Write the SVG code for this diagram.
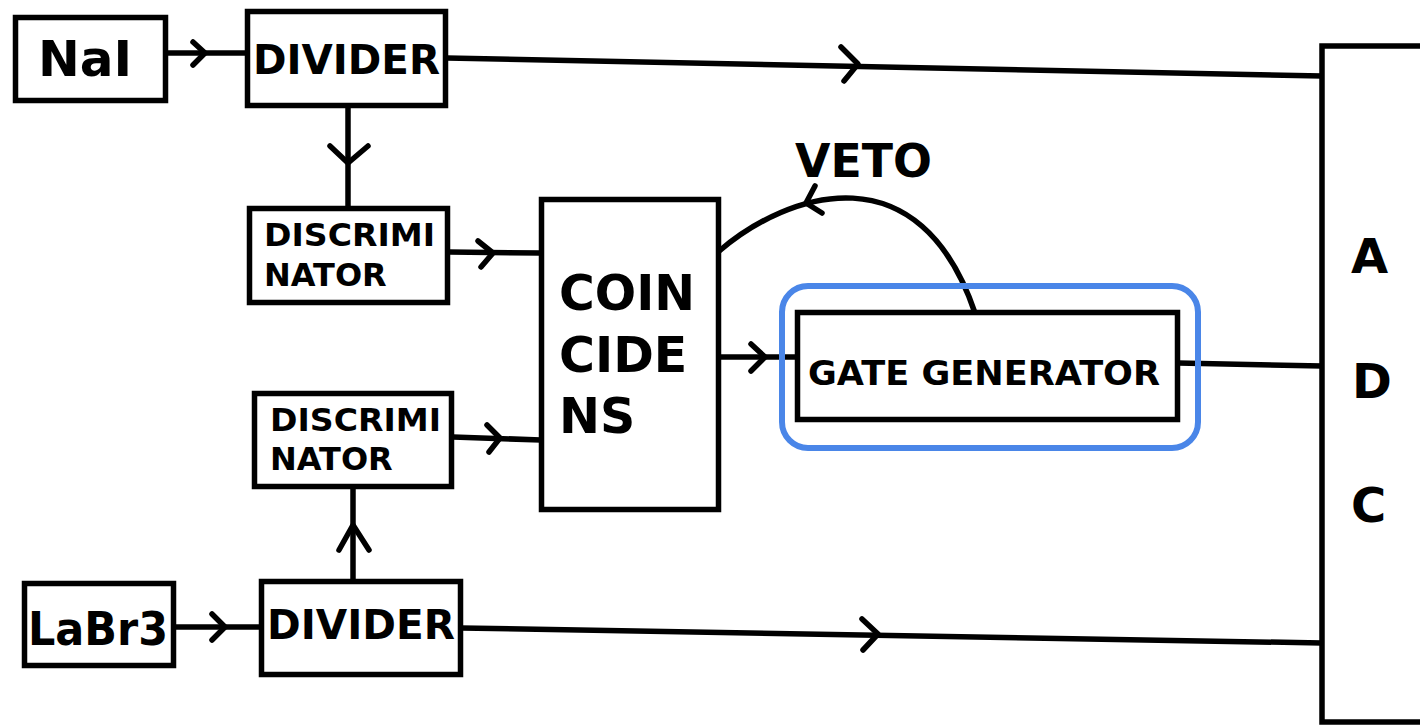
<svg xmlns="http://www.w3.org/2000/svg" width="1420" height="726" viewBox="0 0 1420 726">
  <style>
    .box { fill: #ffffff; stroke: #000000; stroke-width: 5.5; }
    .wire { fill: none; stroke: #000000; stroke-width: 5.5; }
    .head { fill: none; stroke: #000000; stroke-width: 5.5; stroke-linecap: round; stroke-linejoin: round; }
    .lbl { font-family: "DejaVu Sans", "Noto Sans", sans-serif; font-weight: bold; fill: #000000; }
  </style>
  <rect width="1420" height="726" fill="#ffffff"/>

  <!-- connectors -->
  <g id="connectors">
    <!-- NaI -> DIVIDER -->
    <line class="wire" x1="168" y1="53" x2="247" y2="53"/>
    <polyline class="head" points="193,42 205,53 193,65"/>
    <!-- DIVIDER -> DISCRIMINATOR (upper) -->
    <line class="wire" x1="348" y1="106" x2="348" y2="208"/>
    <polyline class="head" points="330,146 348,163 368,146"/>
    <!-- DIVIDER -> ADC -->
    <line class="wire" x1="447" y1="58" x2="1322" y2="76"/>
    <polyline class="head" points="841,47 858,64 844,81"/>
    <!-- DISCRIMINATOR (upper) -> COINCIDENS -->
    <line class="wire" x1="449" y1="252" x2="541" y2="253"/>
    <polyline class="head" points="478,241 493,253 481,267"/>
    <!-- DISCRIMINATOR (lower) -> COINCIDENS -->
    <line class="wire" x1="453" y1="437" x2="541" y2="440"/>
    <polyline class="head" points="487,425 500,438 489,452"/>
    <!-- LaBr3 -> DIVIDER -->
    <line class="wire" x1="175" y1="627" x2="262" y2="627"/>
    <polyline class="head" points="212,614 225,627 212,640"/>
    <!-- DIVIDER (lower) -> DISCRIMINATOR (lower) -->
    <line class="wire" x1="353" y1="581" x2="353" y2="487"/>
    <polyline class="head" points="339,550 353,525 369,550"/>
    <!-- DIVIDER (lower) -> ADC -->
    <line class="wire" x1="461" y1="628" x2="1322" y2="643"/>
    <polyline class="head" points="862,619 878,634 863,650"/>
    <!-- COINCIDENS -> GATE GENERATOR -->
    <line class="wire" x1="720" y1="357" x2="798" y2="357"/>
    <polyline class="head" points="751,344 765,357 751,371"/>
    <!-- GATE GENERATOR -> ADC -->
    <line class="wire" x1="1178" y1="363" x2="1322" y2="366"/>
    <!-- VETO feedback: GATE GENERATOR -> COINCIDENS -->
    <path class="wire" stroke-width="4.5" d="M718,252 C790,190 920,150 975,313"/>
    <polyline class="head" stroke-width="4.5" points="815,186 806,203 822,213"/>
  </g>

  <g id="nai">
    <rect class="box" x="15.5" y="17.5" width="150" height="83"/>
    <text class="lbl" x="38" y="76" font-size="50">NaI</text>
  </g>

  <g id="divider-top">
    <rect class="box" x="247.5" y="11.5" width="198" height="94"/>
    <text class="lbl" x="253" y="74" font-size="40" textLength="187" lengthAdjust="spacingAndGlyphs">DIVIDER</text>
  </g>

  <g id="discriminator-top">
    <rect class="box" x="249.5" y="208.5" width="198" height="94"/>
    <text class="lbl" x="264" y="246" font-size="32" textLength="171" lengthAdjust="spacingAndGlyphs">DISCRIMI</text>
    <text class="lbl" x="264" y="286" font-size="32">NATOR</text>
  </g>

  <g id="coincidens">
    <rect class="box" x="541.5" y="199.5" width="177" height="310"/>
    <text class="lbl" x="559" y="310" font-size="49" textLength="136" lengthAdjust="spacingAndGlyphs">COIN</text>
    <text class="lbl" x="559" y="372" font-size="49">CIDE</text>
    <text class="lbl" x="559" y="433" font-size="49">NS</text>
  </g>

  <g id="discriminator-bottom">
    <rect class="box" x="254.5" y="393.5" width="197" height="93"/>
    <text class="lbl" x="270" y="431" font-size="32" textLength="171" lengthAdjust="spacingAndGlyphs">DISCRIMI</text>
    <text class="lbl" x="270" y="470" font-size="32">NATOR</text>
  </g>

  <g id="labr3">
    <rect class="box" x="24.5" y="583.5" width="149" height="82"/>
    <text class="lbl" x="28" y="645" font-size="47" textLength="140" lengthAdjust="spacingAndGlyphs">LaBr3</text>
  </g>

  <g id="divider-bottom">
    <rect class="box" x="261.5" y="581.5" width="199" height="93"/>
    <text class="lbl" x="267" y="639" font-size="40" textLength="188" lengthAdjust="spacingAndGlyphs">DIVIDER</text>
  </g>

  <g id="veto-label">
    <text class="lbl" x="795" y="177" font-size="47" textLength="137" lengthAdjust="spacingAndGlyphs">VETO</text>
  </g>

  <g id="gate-generator">
    <rect class="box" x="797.5" y="312.5" width="380" height="107"/>
    <text class="lbl" x="808" y="385" font-size="34" textLength="352" lengthAdjust="spacingAndGlyphs">GATE GENERATOR</text>
    <rect x="782" y="286" width="416" height="162" rx="26" ry="26" fill="none" stroke="#4A86E8" stroke-width="6"/>
  </g>

  <g id="adc">
    <rect class="box" stroke-width="6" x="1322" y="46" width="120" height="676"/>
    <text class="lbl" x="1351" y="273" font-size="48">A</text>
    <text class="lbl" x="1352" y="398" font-size="48">D</text>
    <text class="lbl" x="1351" y="522" font-size="48">C</text>
  </g>
</svg>
